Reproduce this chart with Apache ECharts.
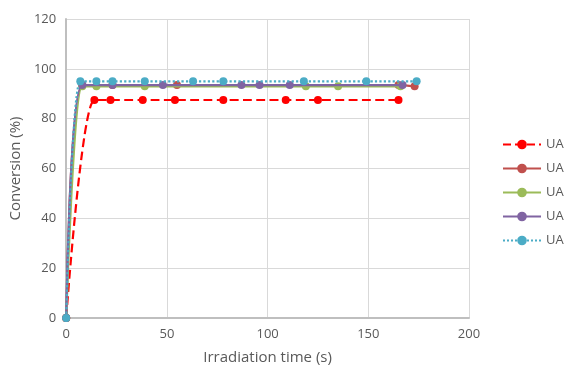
<!DOCTYPE html>
<html>
<head>
<meta charset="utf-8">
<script src="https://cdn.jsdelivr.net/npm/echarts@6/dist/echarts.min.js"></script>
<style>
  html, body { margin: 0; padding: 0; background: #fff; }
  #chart { width: 564px; height: 373px; }
</style>
</head>
<body>
<div id="chart"></div>
<script>
// irradiation time (s) and conversion (%) for each run
var time1 = [0, 14, 22, 38, 54, 78, 109, 125, 165];
var conv1 = [0, 87.5, 87.5, 87.5, 87.5, 87.5, 87.5, 87.5, 87.5];
var time2 = [0, 8, 23, 55, 165, 173];
var conv2 = [0, 93.5, 93.5, 93.5, 93.5, 93];
var time3 = [0, 8, 15, 39, 119, 135, 166];
var conv3 = [0, 93, 93, 93, 93, 93, 93];
var time4 = [0, 8, 23, 48, 87, 96, 111, 167];
var conv4 = [0, 93.5, 93.5, 93.5, 93.5, 93.5, 93.5, 93.5];
var time5 = [0, 7, 15, 23, 39, 63, 78, 118, 149, 174];
var conv5 = [0, 95, 95, 95, 95, 95, 95, 95, 95, 95];

var seriesNames = ['UA', 'UA ', 'UA  ', 'UA   ', 'UA    '];
var colors = ['#ff0000', '#c0504d', '#9bbb59', '#8064a2', '#4bacc6'];
var lineTypes = ['dashed', 'solid', 'solid', 'solid', 'dotted'];
var times = [time1, time2, time3, time4, time5];
var convs = [conv1, conv2, conv3, conv4, conv5];

function pairs(xs, ys) {
  var out = [];
  for (var i = 0; i < xs.length; i++) out.push([xs[i], ys[i]]);
  return out;
}

var series = [];
for (var k = 0; k < 5; k++) {
  series.push({
    name: seriesNames[k],
    type: 'line',
    smooth: 0.3,
    symbol: 'circle',
    symbolSize: 8,
    data: pairs(times[k], convs[k]),
    itemStyle: { color: colors[k] },
    lineStyle: { color: colors[k], width: 2.2, type: lineTypes[k] },
    z: k === 4 ? 10 : 2 + k
  });
}

var chart = echarts.init(document.getElementById('chart'));
chart.setOption({
  animation: false,
  textStyle: { fontFamily: 'Open Sans' },
  grid: { left: 64, right: 95, top: 19, bottom: 55 },
  legend: {
    orient: 'vertical',
    left: 502,
    top: 136,
    padding: 0,
    itemWidth: 38,
    itemHeight: 12,
    itemGap: 7,
    data: seriesNames,
    textStyle: { color: '#595959', fontSize: 13, lineHeight: 17 }
  },
  xAxis: {
    type: 'value',
    min: 0, max: 200, interval: 50,
    name: 'Irradiation time (s)',
    nameLocation: 'middle',
    nameGap: 32,
    nameTextStyle: { color: '#595959', fontSize: 15 },
    axisLine: { lineStyle: { color: '#bfbfbf', width: 2 } },
    axisTick: { show: false },
    axisLabel: { color: '#595959', fontSize: 13, margin: 10 },
    splitLine: { lineStyle: { color: '#d9d9d9' } }
  },
  yAxis: {
    type: 'value',
    min: 0, max: 120, interval: 20,
    name: 'Conversion (%)',
    nameLocation: 'middle',
    nameGap: 36,
    nameTextStyle: { color: '#595959', fontSize: 15 },
    axisLine: { show: true, lineStyle: { color: '#bfbfbf', width: 2 } },
    axisTick: { show: false },
    axisLabel: { color: '#595959', fontSize: 13, margin: 10 },
    splitLine: { lineStyle: { color: '#d9d9d9' } }
  },
  series: series
});
</script>
</body>
</html>
